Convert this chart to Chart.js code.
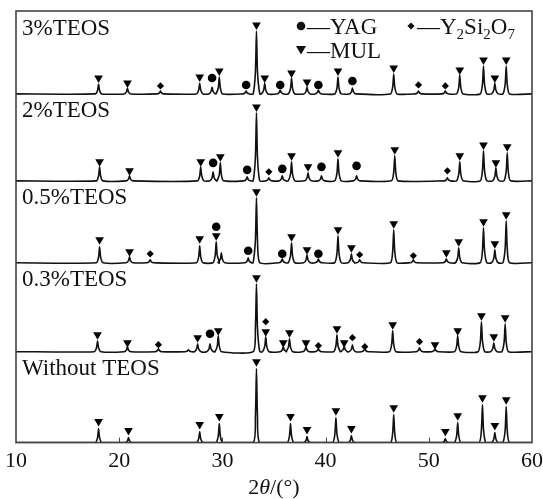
<!DOCTYPE html>
<html lang="en">
<head>
  <meta charset="UTF-8">
  <title>XRD patterns</title>
  <script src="https://cdn.jsdelivr.net/npm/chart.js"></script>
  <style>
    body {
      margin: 0;
      padding: 0;
      background-color: #fff;
    }
    #wrap {
      width: 543px;
      height: 499px;
    }
  </style>
</head>
<body>
  <div id="wrap"><canvas id="xrd" width="543" height="499"></canvas></div>

  <script>
    // 2θ axis
    const xTicks = [10, 20, 30, 40, 50, 60];
    const sampleNames = ['3%TEOS', '2%TEOS', '0.5%TEOS', '0.3%TEOS', 'Without TEOS'];

    // peaks: [2θ, intensity]
    const peaks3 = [[18.0,10],[20.8,6],[24.0,3],[27.8,11],[29.0,7],[29.7,17],[32.3,3],[33.3,63],[34.1,11],[35.6,4],[36.7,16],[38.2,7],[39.3,4],[41.2,17],[42.6,6],[46.6,20],[49.0,3],[51.6,3],[53.0,19],[55.3,28],[56.4,11],[57.5,28]];
    const peaks2 = [[18.1,14],[21.0,5],[27.9,14],[29.1,9],[29.8,18],[32.4,4],[33.3,68],[34.5,3],[35.8,5],[36.7,19],[38.3,8],[39.6,5],[41.2,22],[43.0,5],[46.7,25],[51.8,3],[53.0,19],[55.3,30],[56.5,13],[57.6,28]];
    const peaks05 = [[18.1,16],[21.0,6],[23.0,3],[27.8,17],[29.4,21],[29.9,10],[32.5,5],[33.3,65],[35.8,4],[36.7,20],[38.2,8],[39.3,4],[41.2,27],[42.5,9],[43.3,3],[46.6,33],[48.5,3],[51.7,4],[52.9,15],[55.3,35],[56.4,13],[57.5,42]];
    const peaks03 = [[17.9,11],[20.8,5],[23.8,3],[26.7,2],[27.6,8],[28.8,8],[29.6,16],[33.3,68],[34.2,15],[35.9,5],[36.5,13],[38.1,5],[39.3,3],[41.1,17],[41.8,6],[42.6,7],[43.8,3],[46.5,21],[49.1,4],[50.6,3],[52.8,16],[55.1,30],[56.3,9],[57.4,28]];
    const peaks0 = [[18.0,14],[20.9,5],[27.8,11],[29.7,19],[33.3,74],[36.6,19],[38.2,6],[41.0,25],[42.5,7],[46.6,28],[51.6,4],[52.8,20],[55.2,38],[56.4,10],[57.5,36]];

    // phase marks: [2θ, height]
    const mul3 = [[18.0,16],[20.8,11],[27.8,17],[29.7,23],[33.3,69],[34.1,16],[36.7,21],[38.2,12],[41.2,23],[46.6,26],[53.0,24],[55.3,34],[56.4,16],[57.5,34]];
    const yag3 = [[29.0,16],[32.3,9],[35.6,9],[39.3,9],[42.6,13]];
    const yso3 = [[24.0,8],[49.0,9],[51.6,8]];

    const mul2 = [[18.1,19],[21.0,10],[27.9,19],[29.8,24],[33.3,74],[36.7,25],[38.3,14],[41.2,28],[46.7,31],[53.0,25],[55.3,36],[56.5,18],[57.6,34]];
    const yag2 = [[29.1,18],[32.4,11],[35.8,12],[39.6,14],[43.0,15]];
    const yso2 = [[34.5,9],[51.8,10]];

    const mul05 = [[18.1,23],[21.0,11],[27.8,24],[29.4,27],[33.3,71],[36.7,26],[38.2,13],[41.2,33],[42.5,15],[46.6,39],[51.7,10],[52.9,21],[55.3,41],[56.4,19],[57.5,48]];
    const yag05 = [[29.4,36],[32.5,12],[35.8,9],[39.3,9]];
    const yso05 = [[23.0,9],[43.3,8],[48.5,7]];

    const mul03 = [[17.9,17],[20.8,9],[27.6,14],[29.6,21],[33.3,74],[34.2,20],[35.9,9],[36.5,19],[38.1,9],[41.1,23],[41.8,9],[46.5,27],[50.6,7],[52.8,21],[55.1,36],[56.3,15],[57.4,34]];
    const yag03 = [[28.8,18]];
    const yso03 = [[23.8,7],[34.2,30],[39.3,6],[42.6,14],[43.8,5],[49.1,10]];

    const mul0 = [[18.0,21],[20.9,12],[27.8,18],[29.7,26],[33.3,81],[36.6,26],[38.2,13],[41.0,32],[42.5,14],[46.6,35],[51.6,11],[52.8,27],[55.2,45],[56.4,17],[57.5,43]];

    const allPeaks = [peaks3, peaks2, peaks05, peaks03, peaks0];
    const allMul = [mul3, mul2, mul05, mul03, mul0];
    const allYag = [yag3, yag2, yag05, yag03, []];
    const allYso = [yso3, yso2, yso05, yso03, []];

    // vertical stacking offsets of the patterns (y scale spans 0..432)
    const panelBase = [349, 262, 180, 91, 0];
    const yTop = 432;

    const foot = 0.32;   // half width of a peak at its foot, in degrees
    const neck = 0.1;

    function profile(peaks, base) {
      const pts = [{ x: 10, y: base }];
      peaks.slice().sort((a, b) => a[0] - b[0]).forEach(([p, h]) => {
        pts.push({ x: p - foot, y: base });
        pts.push({ x: p - neck, y: base + h * 0.35 });
        pts.push({ x: p, y: base + h });
        pts.push({ x: p + neck, y: base + h * 0.35 });
        pts.push({ x: p + foot, y: base });
      });
      pts.push({ x: 60, y: base });
      return pts;
    }

    function marks(list, base) {
      return list.map(([p, h]) => ({ x: p, y: base + h }));
    }

    const datasets = [];
    allPeaks.forEach((peaks, i) => {
      datasets.push({
        type: 'line',
        data: profile(peaks, panelBase[i]),
        borderColor: '#111',
        borderWidth: 1.6,
        pointRadius: 0,
        tension: 0.2,
        fill: false
      });
    });
    allPeaks.forEach((peaks, i) => {
      datasets.push({
        type: 'scatter',
        data: marks(allMul[i], panelBase[i]),
        pointStyle: 'triangle',
        rotation: 180,
        radius: 5,
        backgroundColor: '#000',
        borderColor: '#000',
        borderWidth: 0
      });
      datasets.push({
        type: 'scatter',
        data: marks(allYag[i], panelBase[i]),
        pointStyle: 'circle',
        radius: 4.3,
        backgroundColor: '#000',
        borderColor: '#000',
        borderWidth: 0
      });
      datasets.push({
        type: 'scatter',
        data: marks(allYso[i], panelBase[i]),
        pointStyle: 'rectRot',
        radius: 3.6,
        backgroundColor: '#000',
        borderColor: '#000',
        borderWidth: 0
      });
    });

    const serif = '"Liberation Serif", "DejaVu Serif", serif';

    const decor = {
      id: 'decor',
      afterDraw(chart) {
        const ctx = chart.ctx;
        const a = chart.chartArea;
        const xs = chart.scales.x;
        const ys = chart.scales.y;
        ctx.save();

        // frame
        ctx.strokeStyle = '#444';
        ctx.lineWidth = 1.6;
        ctx.strokeRect(a.left, a.top, a.right - a.left, a.bottom - a.top);

        // short inner ticks on the 2θ axis
        ctx.lineWidth = 1;
        xTicks.slice(1, -1).forEach(t => {
          const px = Math.round(xs.getPixelForValue(t)) + 0.5;
          ctx.beginPath();
          ctx.moveTo(px, a.bottom);
          ctx.lineTo(px, a.bottom - 5);
          ctx.stroke();
        });

        // sample names
        ctx.fillStyle = '#111';
        ctx.font = '23px ' + serif;
        ctx.textBaseline = 'top';
        ctx.textAlign = 'left';
        const tops = [yTop].concat(panelBase.slice(0, -1));
        sampleNames.forEach((name, i) => {
          ctx.fillText(name, a.left + 6, ys.getPixelForValue(tops[i]) + 6);
        });

        // phase key
        ctx.textBaseline = 'alphabetic';
        ctx.beginPath();
        ctx.arc(301, 26, 4.3, 0, Math.PI * 2);
        ctx.fill();
        ctx.fillText('\u2014YAG', 307, 34);

        ctx.beginPath();
        ctx.moveTo(411, 22.4); ctx.lineTo(414.6, 26); ctx.lineTo(411, 29.6); ctx.lineTo(407.4, 26);
        ctx.closePath();
        ctx.fill();
        let x = 417;
        const parts = [['\u2014Y', 0], ['2', 1], ['Si', 0], ['2', 1], ['O', 0], ['7', 1]];
        parts.forEach(([s, sub]) => {
          ctx.font = (sub ? '15px ' : '23px ') + serif;
          ctx.fillText(s, x, sub ? 39 : 34);
          x += ctx.measureText(s).width;
        });

        ctx.font = '23px ' + serif;
        ctx.beginPath();
        ctx.moveTo(296, 46); ctx.lineTo(306, 46); ctx.lineTo(301, 54.5);
        ctx.closePath();
        ctx.fill();
        ctx.fillText('\u2014MUL', 307, 58);

        // axis title 2θ/(°)
        const t1 = '2', t3 = '/(\u00b0)';
        ctx.font = 'italic 22px ' + serif;
        const wTh = ctx.measureText('\u03b8').width;
        ctx.font = '22px ' + serif;
        const w1 = ctx.measureText(t1).width, w3 = ctx.measureText(t3).width;
        let tx = (a.left + a.right) / 2 - (w1 + wTh + w3) / 2;
        const ty = 494;
        ctx.fillText(t1, tx, ty); tx += w1;
        ctx.font = 'italic 22px ' + serif;
        ctx.fillText('\u03b8', tx, ty); tx += wTh;
        ctx.font = '22px ' + serif;
        ctx.fillText(t3, tx, ty);

        ctx.restore();
      }
    };

    new Chart(document.getElementById('xrd').getContext('2d'), {
      type: 'line',
      data: { datasets: datasets },
      options: {
        responsive: false,
        animation: false,
        layout: { padding: { left: 16, right: 0, top: 11, bottom: 20 } },
        plugins: {
          legend: { display: false },
          tooltip: { enabled: false }
        },
        scales: {
          x: {
            type: 'linear',
            min: 10,
            max: 60,
            afterBuildTicks: axis => { axis.ticks = xTicks.map(v => ({ value: v })); },
            afterFit: axis => { axis.paddingRight = 11; axis.paddingLeft = 11; },
            grid: { display: false, drawTicks: false },
            border: { display: false },
            ticks: {
              color: '#111',
              padding: 5,
              maxRotation: 0,
              font: { family: serif, size: 22 }
            }
          },
          y: {
            display: false,
            min: 0,
            max: yTop
          }
        }
      },
      plugins: [decor]
    });
  </script>
</body>
</html>
